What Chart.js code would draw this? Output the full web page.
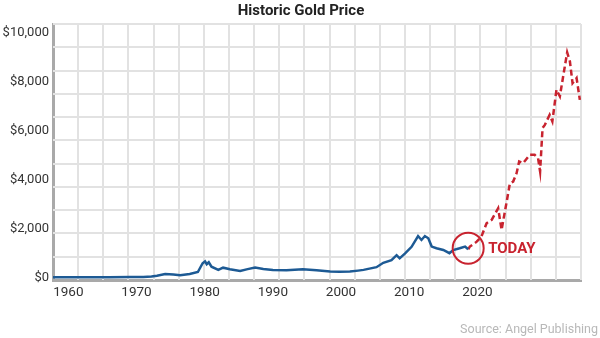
<!DOCTYPE html>
<html lang="en">
<head>
<meta charset="UTF-8">
<title>Historic Gold Price</title>
<script src="https://cdn.jsdelivr.net/npm/chart.js@4.4.1/dist/chart.umd.min.js"></script>
<style>
    html, body { margin: 0; padding: 0; background: #fff; }
    #wrap { width: 600px; height: 338px; position: relative; }
</style>
</head>
<body>
<div id="wrap"><canvas id="goldChart"></canvas></div>
<script>
    // historic prices (year, USD/oz)
    const histYears = [1957.75, 1962, 1966, 1969, 1971, 1972.2, 1973, 1974.2, 1975.4, 1976.4,
        1977.8, 1979.0, 1979.7, 1980.05, 1980.3, 1980.6, 1981.0, 1982.0, 1982.7, 1983.7,
        1985.2, 1986.3, 1987.4, 1988.6, 1990.0, 1992.0, 1994.4, 1996.4, 1998.4, 1999.8,
        2001.3, 2002.5, 2003.3, 2005.2, 2006.2, 2007.4, 2008.15, 2008.6, 2009.4, 2010.35,
        2011.3, 2011.8, 2012.3, 2012.8, 2013.3, 2014.0, 2015.0, 2015.9, 2016.45, 2017.4,
        2018.2, 2018.65];
    const histPrices = [35, 35, 35, 40, 42, 58, 95, 160, 140, 115,
        160, 245, 600, 680, 560, 640, 460, 330, 420, 355,
        290, 360, 430, 370, 330, 315, 360, 320, 260, 250,
        260, 300, 330, 440, 620, 730, 930, 800, 1000, 1270,
        1710, 1550, 1710, 1620, 1280, 1210, 1140, 1010, 1140, 1210,
        1280, 1170];

    // projection (dashed red)
    const projYears = [2018.65, 2018.9, 2019.9, 2020.6, 2021.35, 2022.1, 2023.05, 2023.55, 2024.3, 2024.77,
        2025.25, 2025.75, 2026.13, 2026.7, 2027.7, 2028.4, 2028.9, 2029.2, 2029.56, 2029.9,
        2030.6, 2031.0, 2031.6, 2032.1, 2032.58, 2033.17, 2033.57, 2033.96, 2034.55, 2035.03];
    const projPrices = [1170, 1280, 1480, 1690, 2230, 2370, 2840, 1960, 3110, 3860,
        3930, 4270, 4750, 4680, 5020, 5020, 4880, 4340, 6110, 6240,
        6650, 6380, 7670, 7400, 8210, 9190, 8830, 7940, 8150, 7260];

    const xTicks = [1960, 1970, 1980, 1990, 2000, 2010, 2020];
    const yTicks = [0, 2000, 4000, 6000, 8000, 10000];

    // background grid is decorative, not tied to the ticks
    const GRID_COLS = 21;
    const GRID_ROWS = 11;

    const BLUE = '#1d5a94';
    const RED = '#c8232f';
    const GRID = '#e2e2e2';
    const AXIS = '#a9a9a9';
    const FONT = "Roboto, 'Open Sans', sans-serif";

    const toPoints = (xs, ys) => xs.map((x, i) => ({ x: x, y: ys[i] }));

    const decorations = {
        id: 'decorations',
        beforeDatasetsDraw(chart) {
            const { ctx, chartArea: a } = chart;
            ctx.save();
            ctx.fillStyle = GRID;
            for (let i = 1; i <= GRID_COLS; i++) {
                const px = Math.round(a.left + (a.right - a.left) * i / GRID_COLS);
                ctx.fillRect(px - 1, a.top, 2, a.bottom - a.top);
            }
            for (let j = 1; j <= GRID_ROWS; j++) {
                const py = Math.round(a.bottom - (a.bottom - a.top) * j / GRID_ROWS);
                ctx.fillRect(a.left, py - 1, a.right - a.left, 2);
            }
            ctx.restore();
        },
        afterDatasetsDraw(chart) {
            const { ctx, scales: { x, y } } = chart;
            const last = histYears.length - 1;
            const cx = x.getPixelForValue(histYears[last]);
            const cy = y.getPixelForValue(histPrices[last]);
            ctx.save();
            ctx.strokeStyle = RED;
            ctx.lineWidth = 2;
            ctx.beginPath();
            ctx.arc(cx, cy - 1, 15.5, 0, Math.PI * 2);
            ctx.stroke();
            ctx.fillStyle = RED;
            ctx.font = "bold 15px " + FONT;
            ctx.textBaseline = 'middle';
            ctx.textAlign = 'left';
            ctx.fillText('TODAY', cx + 20, cy);
            ctx.restore();
        },
        afterDraw(chart) {
            const { ctx, width } = chart;
            ctx.save();
            ctx.fillStyle = '#222';
            ctx.font = "bold 15px " + FONT;
            ctx.textAlign = 'center';
            ctx.textBaseline = 'middle';
            ctx.fillText('Historic Gold Price', 301, 11);
            ctx.fillStyle = '#b8b8b8';
            ctx.font = "12.5px " + FONT;
            ctx.textAlign = 'right';
            ctx.fillText('Source: Angel Publishing', width - 2, 330);
            ctx.restore();
        }
    };

    new Chart(document.getElementById('goldChart').getContext('2d'), {
        type: 'line',
        data: {
            datasets: [
                { label: 'Historic', data: toPoints(histYears, histPrices), borderColor: BLUE, borderWidth: 2.5, pointRadius: 0, tension: 0 },
                { label: 'Projection', data: toPoints(projYears, projPrices), borderColor: RED, borderWidth: 2.5, borderDash: [6, 3.5], pointRadius: 0, tension: 0 }
            ]
        },
        options: {
            responsive: true,
            maintainAspectRatio: false,
            animation: false,
            layout: { padding: { top: 24, right: 19, left: 0, bottom: 0 } },
            plugins: { legend: { display: false }, title: { display: false }, tooltip: { enabled: false } },
            scales: {
                x: {
                    type: 'linear', min: 1957.75, max: 2035.2,
                    afterBuildTicks: s => { s.ticks = xTicks.map(v => ({ value: v })); },
                    afterFit: s => { s.height = 58; },
                    grid: { display: false, drawTicks: false },
                    border: { display: true, color: AXIS, width: 3 },
                    ticks: { color: '#333', padding: 5, font: { family: FONT, size: 13.5 }, callback: v => String(v), maxRotation: 0 }
                },
                y: {
                    min: -82, max: 10351,
                    afterBuildTicks: s => { s.ticks = yTicks.map(v => ({ value: v })); },
                    afterFit: s => { s.width = 53; },
                    grid: { display: false, drawTicks: false },
                    border: { display: true, color: AXIS, width: 3 },
                    ticks: { color: '#333', padding: 4, font: { family: FONT, size: 13 }, callback: v => '$' + v.toLocaleString('en-US') }
                }
            }
        },
        plugins: [decorations]
    });
</script>
</body>
</html>
